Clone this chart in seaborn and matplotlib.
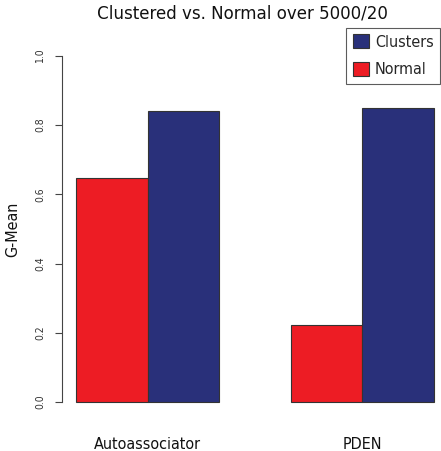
import matplotlib
matplotlib.use("Agg")
import matplotlib.pyplot as plt
import seaborn as sns
import pandas as pd
from matplotlib.patches import Patch

methods = ["Autoassociator", "PDEN"]
normal = [0.647, 0.223]
clusters = [0.841, 0.850]
series = ["Normal", "Clusters"]
colors = {"Normal": "#ED1C24", "Clusters": "#29307A"}
yticks = [0.0, 0.2, 0.4, 0.6, 0.8, 1.0]
ytick_labels = ["0.0", "0.2", "0.4", "0.6", "0.8", "1.0"]

df = pd.DataFrame({
    "method": methods * 2,
    "series": ["Normal"] * 2 + ["Clusters"] * 2,
    "value": normal + clusters,
})

sns.set_style("white")
plt.rcParams['font.family'] = ['DejaVu Sans']
plt.rcParams['font.stretch'] = 'condensed'

W, H = 441, 451
fig = plt.figure(figsize=(W / 100, H / 100), dpi=100)
ax = fig.add_axes([62 / W, (H - 416) / H, 386 / W, 374 / H])

sns.barplot(data=df, x="method", y="value", hue="series", hue_order=series,
            palette=colors, width=2 / 3, ax=ax, edgecolor="#333333",
            linewidth=0.8, saturation=1, legend=False, errorbar=None)

ax.set_xlim(-0.4, 1.4)
ax.set_ylim(-0.04, 1.04)
for s in ["top", "right", "bottom"]:
    ax.spines[s].set_visible(False)
ax.spines["left"].set_bounds(0, 1)
ax.spines["left"].set_color("#444444")
ax.spines["left"].set_linewidth(0.8)

ax.set_yticks(yticks)
ax.set_yticklabels(ytick_labels, rotation=90, va="center", fontsize=7.5,
                   color="#333333", fontstretch="condensed")
ax.tick_params(axis="y", length=5, width=0.8, color="#444444", left=True, pad=7)
ax.tick_params(axis="x", length=0, pad=15)
for t in ax.get_xticklabels():
    t.set_fontsize(11.5)
    t.set_fontstretch("condensed")
    t.set_color("#111111")
ax.set_xlabel("")
ax.set_ylabel("G-Mean", fontsize=11.5, labelpad=0, fontstretch="condensed", color="#111111")
ax.yaxis.set_label_coords(-42 / 386, 0.5)

fig.text(242.5 / W, 1 - 19 / H, "Clustered vs. Normal over 5000/20", ha="center", va="baseline",
         fontsize=13.3, fontstretch="condensed", color="#111111")

handles = [Patch(facecolor=colors["Clusters"], edgecolor="#333333", linewidth=0.8),
           Patch(facecolor=colors["Normal"], edgecolor="#333333", linewidth=0.8)]
leg = fig.legend(handles, ["Clusters", "Normal"], loc="upper right",
                 bbox_to_anchor=(440 / W, 1 - 28 / H),
                 prop={"size": 11.5, "stretch": "condensed"},
                 frameon=True, fancybox=False, handlelength=1.05, handleheight=0.95,
                 handletextpad=0.35, borderpad=0.4, labelspacing=0.75, borderaxespad=0)
leg.get_frame().set_edgecolor("#333333")
leg.get_frame().set_linewidth(0.8)

fig.savefig("out.png", dpi=100)
